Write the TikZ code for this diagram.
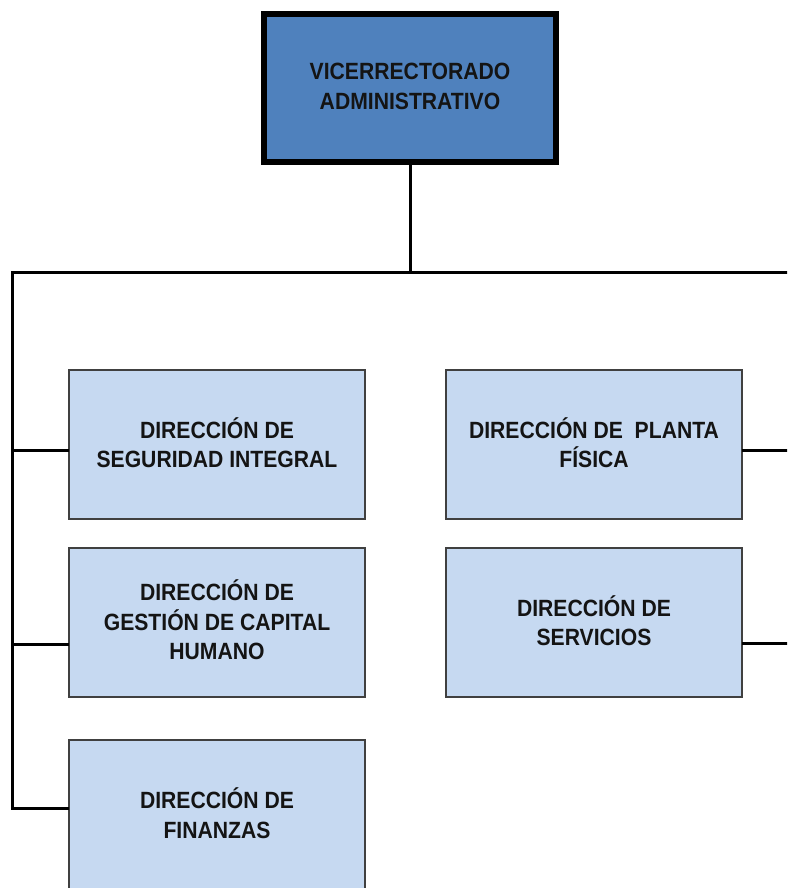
\documentclass[tikz,border=0pt]{standalone}
\usepackage{fontspec}
\setmainfont{Liberation Sans}[FakeStretch=0.9]
\definecolor{topfill}{RGB}{79,129,189}
\definecolor{boxfill}{RGB}{198,217,241}
\definecolor{boxline}{RGB}{64,64,64}
\definecolor{txt}{RGB}{20,20,20}
\begin{document}
\begin{tikzpicture}[x=1pt,y=-1pt,
  topbox/.style={draw=black, line width=5.5pt, fill=topfill, minimum width=292pt, minimum height=148pt,
    inner sep=0pt, outer sep=0pt, align=center, text=txt,
    font=\fontsize{23.5}{28}\selectfont\bfseries},
  unitbox/.style={draw=boxline, line width=1.6pt, fill=boxfill, minimum width=296pt, minimum height=149pt,
    inner sep=0pt, outer sep=0pt, align=center, text=txt,
    font=\fontsize{23.5}{29.5}\selectfont\bfseries},
  label/.style={align=center, text=txt, inner sep=0pt, font=\fontsize{23.5}{29.5}\selectfont\bfseries},
  link/.style={draw=black, line width=3pt}]
\useasboundingbox (0,0) rectangle (787,888);
\clip (0,0) rectangle (787,888);
\fill[white] (0,0) rectangle (787,888);
\node[topbox] (vr) at (410,88) {};
\node[label] (vrt) at (410,86.5) {VICERRECTORADO\\ADMINISTRATIVO};
\node[unitbox] (seg) at (217,444.5) {};
\node[label] (segt) at (217,442.5) {DIRECCIÓN DE\\SEGURIDAD INTEGRAL};
\node[unitbox] (cap) at (217,622.5) {};
\node[label] (capt) at (217,620) {DIRECCIÓN DE\\GESTIÓN DE CAPITAL\\HUMANO};
\node[unitbox, minimum height=150pt] (fin) at (217,815) {};
\node[label] (fint) at (217,813) {DIRECCIÓN DE\\FINANZAS};
\node[unitbox] (pla) at (594,444.5) {};
\node[label] (plat) at (594,442.5) {DIRECCIÓN DE\ \ PLANTA\\FÍSICA};
\node[unitbox] (ser) at (594,622.5) {};
\node[label] (sert) at (594,620.5) {DIRECCIÓN DE\\SERVICIOS};
\coordinate (busL) at (12,272);
\coordinate (busR) at (790,272);
\coordinate (edgeR) at (790,272);
\draw[link] (vr.south) -- (vr.south |- busL);
\draw[link] (busR) -- (busL) -- (busL |- 0,808) -- (fin.west |- 0,808);
\draw[link] (busL |- 0,450) -- (seg.west |- 0,450);
\draw[link] (busL |- 0,644) -- (cap.west |- 0,644);
\draw[link] (pla.east |- 0,450) -- (edgeR |- 0,450);
\draw[link] (ser.east |- 0,643) -- (edgeR |- 0,643);
\end{tikzpicture}
\end{document}
